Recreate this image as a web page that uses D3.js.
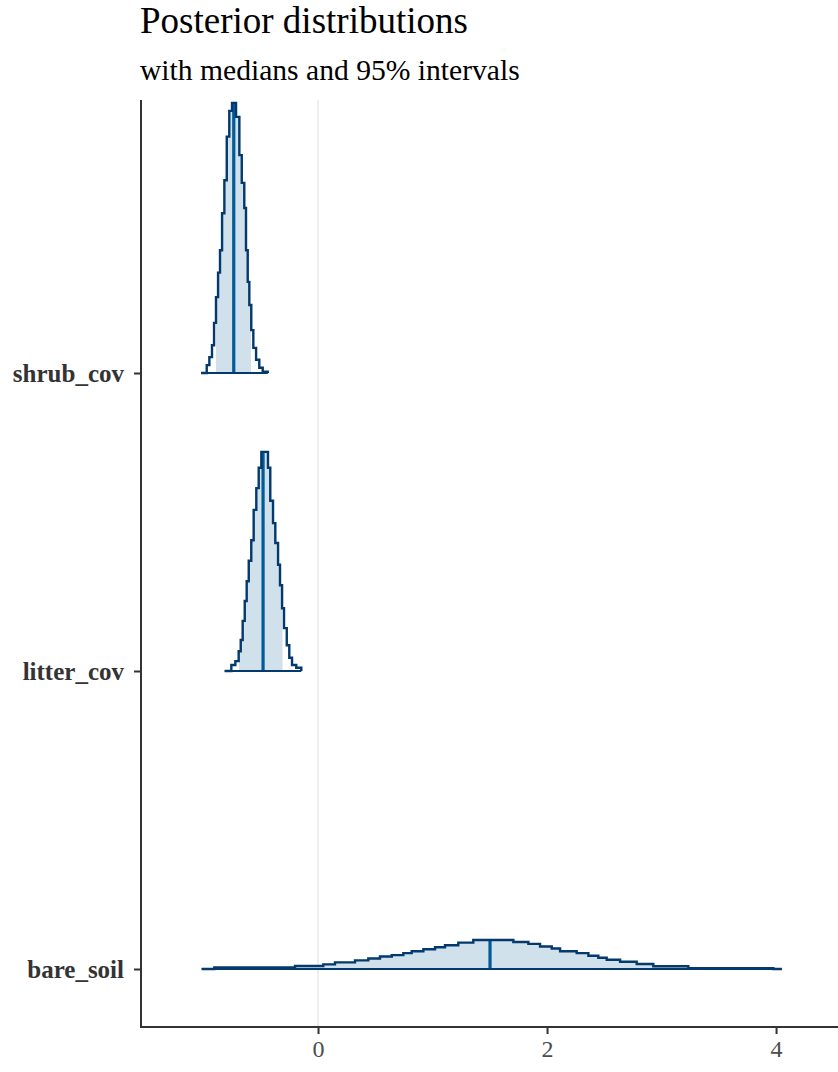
<!DOCTYPE html>
<html>
<head>
<meta charset="utf-8">
<script src="https://cdn.jsdelivr.net/npm/d3@7"></script>
<style>
  body { margin: 0; background: #ffffff; }
  svg { display: block; }
</style>
</head>
<body>
<svg id="chart" width="838" height="1072"></svg>
<script>
// Parameters, top to bottom
const parameters = ["shrub_cov", "litter_cov", "bare_soil"];

// Posterior medians and 95% interval bounds
const medians   = [-0.736, -0.480, 1.502];
const innerLow  = [-0.891, -0.690, -0.201];
const innerHigh = [-0.585, -0.310, 3.234];

// Stepped density profiles: x where the step starts, density held until the next x
const shrubX = [-1.022, -0.972, -0.949, -0.926, -0.908, -0.891, -0.873, -0.856, -0.838, -0.818,
                -0.797, -0.775, -0.751, -0.716, -0.687, -0.666, -0.644, -0.629, -0.614, -0.600,
                -0.583, -0.565, -0.541, -0.513, -0.483, -0.439];
const shrubDensity = [0.00, 0.12, 0.24, 0.42, 0.76, 1.15, 1.52, 1.86, 2.42, 2.92,
                      3.58, 3.97, 4.09, 3.88, 3.30, 2.88, 2.50, 1.86, 1.38, 1.03,
                      0.65, 0.38, 0.20, 0.08, 0.02, 0.00];

const litterX = [-0.815, -0.757, -0.722, -0.693, -0.675, -0.658, -0.640, -0.623, -0.605, -0.583,
                 -0.562, -0.539, -0.518, -0.495, -0.437, -0.417, -0.393, -0.373, -0.349, -0.332,
                 -0.314, -0.297, -0.273, -0.251, -0.227, -0.190, -0.146];
const litterDensity = [0.00, 0.09, 0.15, 0.30, 0.47, 0.76, 1.06, 1.36, 1.67, 1.98,
                       2.44, 2.77, 3.08, 3.32, 3.08, 2.58, 2.24, 1.94, 1.61, 1.30,
                       0.95, 0.65, 0.39, 0.20, 0.09, 0.05, 0.00];

const bareX = [-1.016, -0.906, -0.201, 0.046, 0.148, 0.323, 0.439, 0.541, 0.644, 0.745,
               0.818, 0.920, 1.022, 1.109, 1.225, 1.356, 1.706, 1.837, 1.939, 2.041,
               2.114, 2.259, 2.361, 2.448, 2.521, 2.638, 2.783, 2.928, 3.234, 3.976, 4.050];
const bareDensity = [0.000, 0.025, 0.045, 0.070, 0.100, 0.130, 0.160, 0.190, 0.210, 0.240,
                     0.270, 0.300, 0.330, 0.360, 0.400, 0.440, 0.410, 0.380, 0.340, 0.310,
                     0.270, 0.240, 0.200, 0.170, 0.140, 0.110, 0.076, 0.041, 0.011, 0.000, 0.000];

const densityX = [shrubX, litterX, bareX];
const densityY = [shrubDensity, litterDensity, bareDensity];

const xTicks = [0, 2, 4];

const titleText = "Posterior distributions";
const subtitleText = "with medians and 95% intervals";

// Colours (blue scheme)
const colLight = "#d1e1ec";
const colDark = "#03396c";
const colMid = "#005b96";

const svg = d3.select("#chart");
const W = 838, H = 1072;
const panel = { left: 141, right: 838, top: 100, bottom: 1027 };

const x = d3.scaleLinear().domain([-1.546, 4.541]).range([panel.left, panel.right]);
const y = d3.scalePoint().domain(parameters.slice().reverse()).range([969, 373]);

const maxDensity = d3.max(densityY, arr => d3.max(arr));
const h = d3.scaleLinear().domain([0, maxDensity]).range([0, 270]);

// vertical reference line at zero
svg.append("line")
  .attr("x1", x(0)).attr("x2", x(0))
  .attr("y1", panel.top).attr("y2", panel.bottom)
  .attr("stroke", "#e3e3e3").attr("stroke-width", 1.2);

const defs = svg.append("defs");

parameters.forEach((p, i) => {
  const base = y(p);
  const pts = densityX[i].map((v, j) => ({ x: v, d: densityY[i][j] }));

  const area = d3.area()
    .curve(d3.curveStepAfter)
    .x(d => x(d.x))
    .y0(base)
    .y1(d => base - h(d.d));
  const line = d3.line()
    .curve(d3.curveStepAfter)
    .x(d => x(d.x))
    .y(d => base - h(d.d));

  // clip to the inner interval
  const clipId = "inner-" + i;
  defs.append("clipPath").attr("id", clipId)
    .append("rect")
    .attr("x", x(innerLow[i])).attr("width", x(innerHigh[i]) - x(innerLow[i]))
    .attr("y", 0).attr("height", H);

  const g = svg.append("g").attr("class", "ridge");

  g.append("path")
    .attr("d", area(pts))
    .attr("fill", colLight)
    .attr("clip-path", `url(#${clipId})`);

  // median segment up to the density at the median
  const idx = d3.bisector(d => d.x).right(pts, medians[i]) - 1;
  const dMed = pts[Math.max(0, idx)].d;
  g.append("line")
    .attr("x1", x(medians[i])).attr("x2", x(medians[i]))
    .attr("y1", base).attr("y2", base - h(dMed))
    .attr("stroke", colMid).attr("stroke-width", 3.2);

  // outline of the whole density
  g.append("path")
    .attr("d", line(pts))
    .attr("fill", "none")
    .attr("stroke", colDark)
    .attr("stroke-width", 2.4)
    .attr("stroke-linejoin", "miter");

  // baseline under the ridge
  g.append("line")
    .attr("x1", x(pts[0].x)).attr("x2", x(pts[pts.length - 1].x))
    .attr("y1", base).attr("y2", base)
    .attr("stroke", colDark).attr("stroke-width", 2.2);
});

// axes
const axisColor = "#333333";
const xAxis = svg.append("g")
  .attr("transform", `translate(0,${panel.bottom})`)
  .call(d3.axisBottom(x).tickValues(xTicks).tickSize(7).tickPadding(6).tickFormat(d3.format("d")));
xAxis.select(".domain").remove();
xAxis.append("line")
  .attr("x1", panel.left).attr("x2", panel.right)
  .attr("stroke", axisColor).attr("stroke-width", 2);
xAxis.selectAll(".tick line").attr("stroke", axisColor).attr("stroke-width", 2);
xAxis.selectAll(".tick text")
  .attr("fill", "#4d4d4d")
  .attr("font-family", "'Liberation Serif', 'Times New Roman', serif")
  .attr("font-size", 24);

const yAxis = svg.append("g")
  .attr("transform", `translate(${panel.left},0)`)
  .call(d3.axisLeft(y).tickSize(7).tickPadding(10));
yAxis.select(".domain").remove();
yAxis.append("line")
  .attr("y1", panel.top).attr("y2", panel.bottom + 1)
  .attr("stroke", axisColor).attr("stroke-width", 2);
yAxis.selectAll(".tick line").attr("stroke", axisColor).attr("stroke-width", 2);
yAxis.selectAll(".tick text")
  .attr("fill", "#333333")
  .attr("font-family", "'Liberation Serif', 'Times New Roman', serif")
  .attr("font-weight", "bold")
  .attr("font-size", 25);

// titles
svg.append("text")
  .attr("x", 140).attr("y", 33)
  .attr("font-family", "'Liberation Serif', 'Times New Roman', serif")
  .attr("font-size", 37)
  .attr("fill", "#000")
  .text(titleText);
svg.append("text")
  .attr("x", 140).attr("y", 80)
  .attr("font-family", "'Liberation Serif', 'Times New Roman', serif")
  .attr("font-size", 29.6)
  .attr("fill", "#000")
  .text(subtitleText);
</script>
</body>
</html>
